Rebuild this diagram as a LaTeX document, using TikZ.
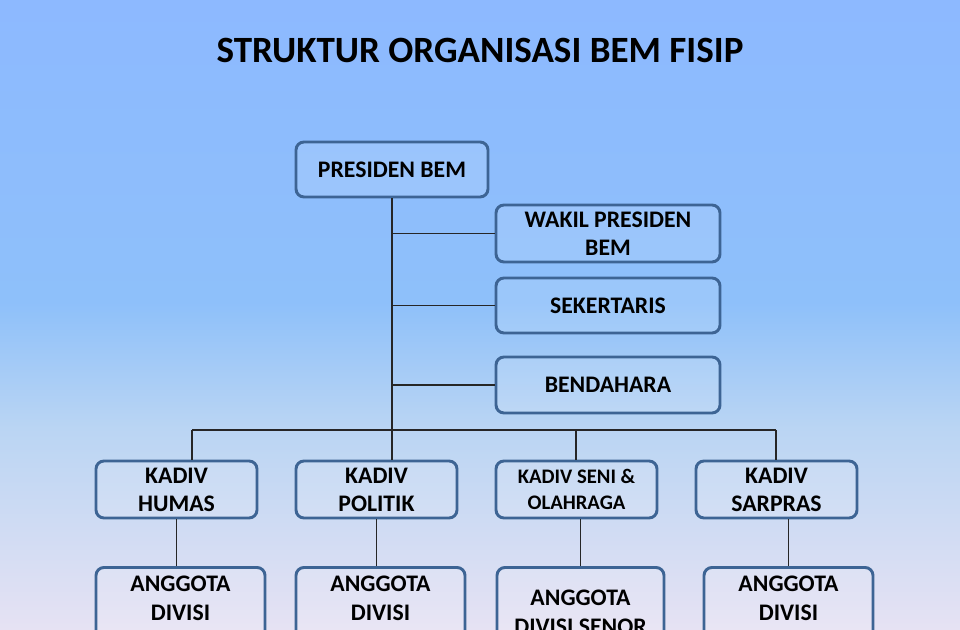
\documentclass[tikz,border=0pt]{standalone}
\usepackage{fontspec}
\setmainfont{Carlito}
\definecolor{bgtop}{HTML}{8DB9FF}
\definecolor{bgmid}{HTML}{8EC0FA}
\definecolor{bgmid2}{HTML}{BAD5F3}
\definecolor{bgbot}{HTML}{E6E2F3}
\definecolor{bordc}{HTML}{3D6494}
\pgfdeclareverticalshading{bgshade}{100bp}{color(0bp)=(bgbot); color(25bp)=(bgbot); color(41bp)=(bgmid2); color(51bp)=(bgmid); color(75bp)=(bgtop); color(100bp)=(bgtop)}
\tikzset{
  orgbox/.style={draw=bordc, line width=2.2pt, rounded corners=6pt, fill=white, fill opacity=0.12, text opacity=1,
    font=\bfseries\fontsize{17.8}{21}\selectfont, align=center, inner sep=0pt},
  anggota/.style={orgbox, anchor=north, text depth=70pt, font=\bfseries\fontsize{17.8}{21.75}\selectfont},
  conn/.style={draw=black!85, line width=0.8pt}
}
\begin{document}
\begin{tikzpicture}[x=0.75pt,y=-0.75pt]
\useasboundingbox (0,0) rectangle (960,630);
\clip (0,0) rectangle (960,630);
\shade[shading=bgshade] (0,0) rectangle (960,630);

\node[font=\bfseries\fontsize{27.8}{30}\selectfont] (title) at (480,50) {STRUKTUR ORGANISASI BEM FISIP};

\node[orgbox, minimum width=144pt, minimum height=41.25pt] (pres) at (392,169.5) {PRESIDEN BEM};
\node[orgbox, minimum width=168pt, minimum height=42.75pt] (wakil) at (608,233.5) {WAKIL PRESIDEN\\BEM};
\node[orgbox, minimum width=168pt, minimum height=41.25pt] (sek) at (608,305.5) {SEKERTARIS};
\node[orgbox, minimum width=168pt, minimum height=42pt] (bend) at (608,385) {BENDAHARA};

\node[orgbox, minimum width=120.75pt, minimum height=42.75pt] (humas) at (176.5,489.5) {KADIV\\HUMAS};
\node[orgbox, minimum width=120.75pt, minimum height=42.75pt] (politik) at (376.5,489.5) {KADIV\\POLITIK};
\node[orgbox, minimum width=120.75pt, minimum height=42.75pt, font=\bfseries\fontsize{15.5}{19.5}\selectfont] (seni) at (576.5,489.5) {KADIV SENI \&\\OLAHRAGA};
\node[orgbox, minimum width=120.75pt, minimum height=42.75pt] (sarpras) at (776.5,489.5) {KADIV\\SARPRAS};

\node[anggota, minimum width=126.75pt, inner ysep=6pt] (ahumas) at (180.5,566) {ANGGOTA\\DIVISI};
\node[anggota, minimum width=126.75pt, inner ysep=6pt] (apolitik) at (380.5,566) {ANGGOTA\\DIVISI};
\node[anggota, minimum width=125.25pt, inner ysep=16.5pt] (aseni) at (580.5,566) {ANGGOTA\\DIVISI SENOR};
\node[anggota, minimum width=126.75pt, inner ysep=6pt] (asarpras) at (788.5,566) {ANGGOTA\\DIVISI};

% trunk and side branches
\draw[conn] (pres.south) -- (pres.south |- politik.north);
\draw[conn] (pres.south |- wakil.west) -- (wakil.west);
\draw[conn] (pres.south |- sek.west) -- (sek.west);
\draw[conn] (pres.south |- bend.west) -- (bend.west);

% bus
\coordinate (busL) at (192,430);
\coordinate (busS) at (576,430);
\coordinate (busR) at (776,430);
\draw[conn] (busL) -- (busR);
\draw[conn] (busL) -- (busL |- humas.north);
\draw[conn] (busS) -- (busS |- seni.north);
\draw[conn] (busR) -- (busR |- sarpras.north);

% kadiv to anggota
\draw[conn] (humas.south) -- (humas.south |- ahumas.north);
\draw[conn] (politik.south) -- (politik.south |- apolitik.north);
\draw[conn] (aseni.north |- seni.south) -- (aseni.north);
\draw[conn] (asarpras.north |- sarpras.south) -- (asarpras.north);
\end{tikzpicture}
\end{document}
